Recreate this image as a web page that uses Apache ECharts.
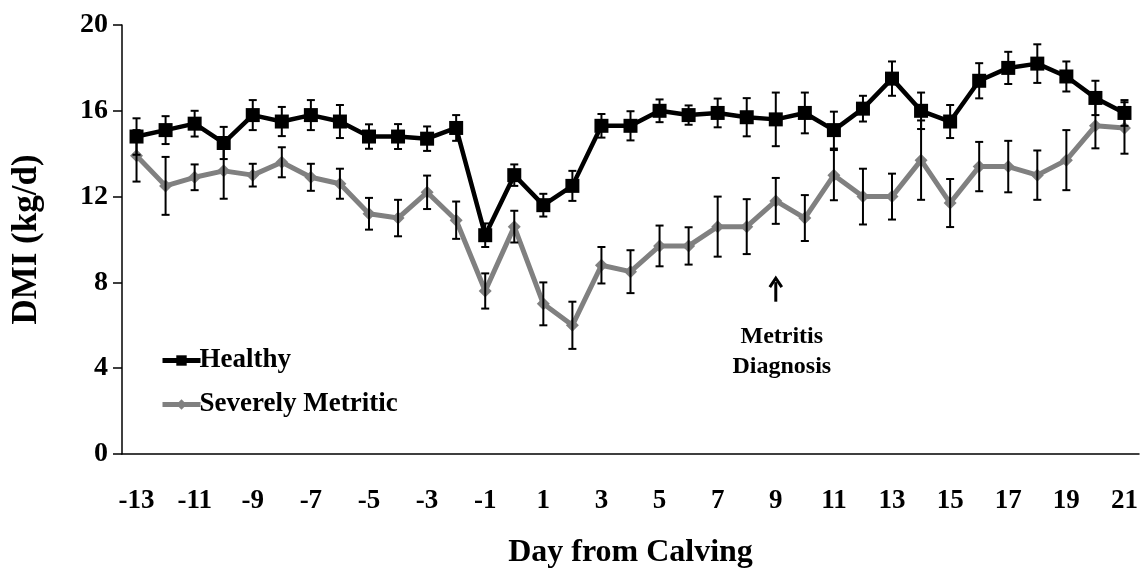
<!DOCTYPE html>
<html>
<head>
<meta charset="utf-8">
<script src="https://cdn.jsdelivr.net/npm/echarts@6/dist/echarts.min.js"></script>
<style>
  html, body { margin: 0; padding: 0; background: #fff; }
  #chart { width: 1146px; height: 571px; }
</style>
</head>
<body>
<div id="chart"></div>
<script>
var days = ['-13', '-12', '-11', '-10', '-9', '-8', '-7', '-6', '-5', '-4', '-3', '-2',
  '-1', '0', '1', '2', '3', '4', '5', '6', '7', '8', '9', '10',
  '11', '12', '13', '14', '15', '16', '17', '18', '19', '20', '21']

var healthy = [14.8, 15.1, 15.4, 14.5, 15.8, 15.5, 15.8, 15.5, 14.8, 14.8, 14.7, 15.2,
  10.2, 13.0, 11.6, 12.5, 15.3, 15.3, 16.0, 15.8, 15.9, 15.7, 15.6, 15.9,
  15.1, 16.1, 17.5, 16.0, 15.5, 17.4, 18.0, 18.2, 17.6, 16.6, 15.9]
var healthySE = [0.85, 0.65, 0.6, 0.75, 0.7, 0.68, 0.7, 0.77, 0.57, 0.58, 0.57, 0.6,
  0.55, 0.5, 0.53, 0.7, 0.55, 0.68, 0.53, 0.45, 0.67, 0.89, 1.25, 0.95,
  0.86, 0.6, 0.8, 0.85, 0.77, 0.82, 0.75, 0.9, 0.7, 0.8, 0.6]

var metritic = [13.9, 12.5, 12.9, 13.2, 13.0, 13.6, 12.9, 12.6, 11.2, 11.0, 12.2, 10.9,
  7.6, 10.6, 7.0, 6.0, 8.8, 8.5, 9.7, 9.7, 10.6, 10.6, 11.8, 11.0,
  13.0, 12.0, 12.0, 13.7, 11.7, 13.4, 13.4, 13.0, 13.7, 15.3, 15.2]
var metriticSE = [1.2, 1.35, 0.6, 1.3, 0.53, 0.7, 0.63, 0.7, 0.74, 0.85, 0.78, 0.87,
  0.82, 0.74, 1.0, 1.1, 0.85, 1.0, 0.95, 0.87, 1.4, 1.28, 1.07, 1.07,
  1.17, 1.3, 1.07, 1.85, 1.12, 1.15, 1.2, 1.15, 1.4, 1.05, 1.2]

// where the "Metritis Diagnosis" note points (day, DMI of arrow tip / tail)
var noteDay = '9'
var noteTip = 8.2
var noteTail = 7.1

var FONT = '"Liberation Serif", "Times New Roman", serif'

function errData (mean, se) {
  return mean.map(function (m, i) {
    return [i, m - se[i], m + se[i]]
  })
}

function renderErr (params, api) {
  var lo = api.coord([api.value(0), api.value(1)])
  var hi = api.coord([api.value(0), api.value(2)])
  var w = 4
  var style = { stroke: '#000', lineWidth: 2 }
  return {
    type: 'group',
    children: [
      { type: 'line', shape: { x1: lo[0], y1: lo[1], x2: hi[0], y2: hi[1] }, style: style },
      { type: 'line', shape: { x1: lo[0] - w, y1: lo[1], x2: lo[0] + w, y2: lo[1] }, style: style },
      { type: 'line', shape: { x1: hi[0] - w, y1: hi[1], x2: hi[0] + w, y2: hi[1] }, style: style }
    ]
  }
}

var myChart = echarts.init(document.getElementById('chart'))
var option = {
  animation: false,
  grid: { left: 122, right: 7, top: 25, bottom: 117, containLabel: false, outerBoundsMode: 'none' },
  legend: {
    orient: 'vertical',
    left: 155,
    top: 342,
    itemWidth: 38,
    itemHeight: 13,
    itemGap: 17,
    data: [
      { name: 'Healthy', lineStyle: { width: 5 } },
      { name: 'Severely Metritic', lineStyle: { width: 5 } }
    ],
    textStyle: { fontFamily: FONT, fontWeight: 'bold', fontSize: 27, color: '#000', padding: [0, 0, 0, -6] }
  },
  xAxis: {
    type: 'category',
    data: days,
    name: 'Day from Calving',
    nameLocation: 'middle',
    nameGap: 83,
    nameTextStyle: { fontFamily: FONT, fontWeight: 'bold', fontSize: 32, color: '#000' },
    axisLine: { lineStyle: { color: '#000', width: 1.5 } },
    axisTick: { interval: 0, length: 10, lineStyle: { color: '#000', width: 1.5 } },
    axisLabel: { interval: 1, margin: 34, fontFamily: FONT, fontWeight: 'bold', fontSize: 27, color: '#000' }
  },
  yAxis: {
    type: 'value',
    min: 0,
    max: 20,
    interval: 4,
    name: 'DMI (kg/d)',
    nameLocation: 'middle',
    nameGap: 78,
    nameTextStyle: { fontFamily: FONT, fontWeight: 'bold', fontSize: 35, color: '#000' },
    splitLine: { show: false },
    axisLine: { show: true, lineStyle: { color: '#000', width: 1.5 } },
    axisTick: { show: true, length: 9, lineStyle: { color: '#000', width: 1.5 } },
    axisLabel: { margin: 14, fontFamily: FONT, fontWeight: 'bold', fontSize: 28, color: '#000' }
  },
  series: [
    {
      name: 'Severely Metritic',
      type: 'line',
      data: metritic,
      symbol: 'diamond',
      symbolSize: [13, 13],
      color: '#808080',
      lineStyle: { color: '#808080', width: 5 },
      itemStyle: { color: '#808080' },
      z: 2
    },
    {
      name: 'Healthy',
      type: 'line',
      data: healthy,
      symbol: 'rect',
      symbolSize: 14,
      color: '#000',
      lineStyle: { color: '#000', width: 4.5 },
      itemStyle: { color: '#000' },
      z: 3
    },
    {
      type: 'custom',
      renderItem: renderErr,
      data: errData(metritic, metriticSE),
      encode: { x: 0, y: [1, 2] },
      z: 4
    },
    {
      type: 'custom',
      renderItem: renderErr,
      data: errData(healthy, healthySE),
      encode: { x: 0, y: [1, 2] },
      z: 4
    }
  ]
}
myChart.setOption(option)

// note with arrow, placed through the axes
var tip = myChart.convertToPixel({ gridIndex: 0 }, [noteDay, noteTip])
var tail = myChart.convertToPixel({ gridIndex: 0 }, [noteDay, noteTail])
myChart.setOption({
  graphic: [
    { type: 'line', shape: { x1: tip[0], y1: tip[1] + 4, x2: tail[0], y2: tail[1] }, style: { stroke: '#000', lineWidth: 3 } },
    { type: 'polyline', shape: { points: [[tip[0] - 6, tip[1] + 9], [tip[0], tip[1]], [tip[0] + 6, tip[1] + 9]] }, style: { stroke: '#000', lineWidth: 3, fill: null } },
    {
      type: 'text',
      x: tip[0] + 6,
      y: tail[1] + 20,
      style: {
        text: 'Metritis\nDiagnosis',
        align: 'center',
        verticalAlign: 'top',
        font: 'bold 24px ' + FONT,
        lineHeight: 30,
        fill: '#000'
      }
    }
  ]
})
</script>
</body>
</html>
